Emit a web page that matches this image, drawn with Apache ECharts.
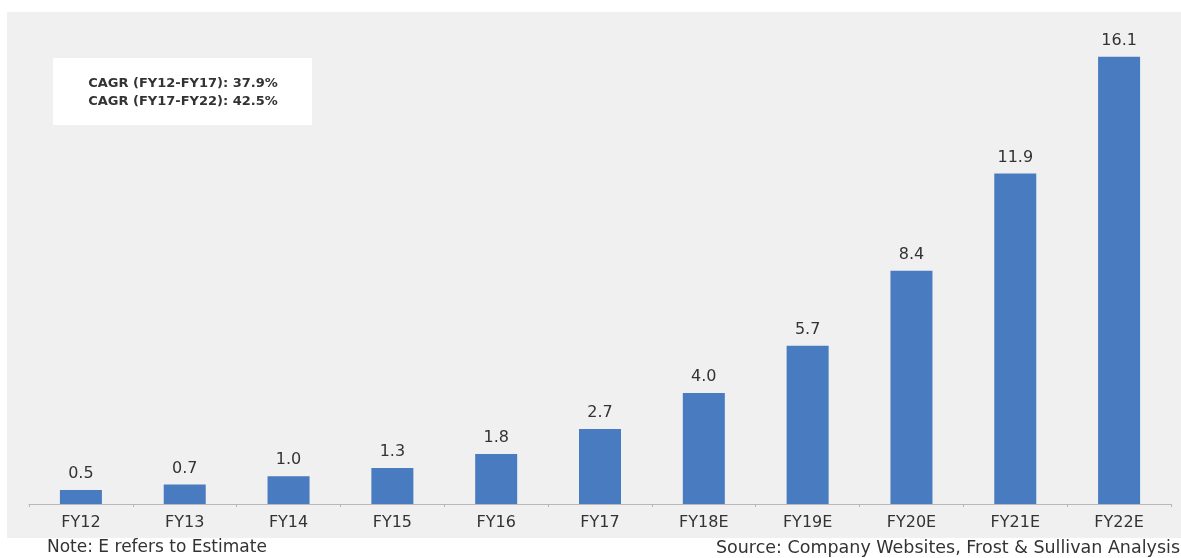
<!DOCTYPE html>
<html><head><meta charset="utf-8">
<script src="https://cdn.jsdelivr.net/npm/echarts@6/dist/echarts.min.js"></script>
<style>html,body{margin:0;padding:0;background:#fff}#c{width:1181px;height:558px}</style>
</head><body><div id="c"></div>
<script>
const categories = ['FY12','FY13','FY14','FY15','FY16','FY17','FY18E','FY19E','FY20E','FY21E','FY22E'];
const values = [0.5,0.7,1.0,1.3,1.8,2.7,4.0,5.7,8.4,11.9,16.1];
const cagrLines = ['CAGR (FY12-FY17): 37.9%','CAGR (FY17-FY22): 42.5%'];
const noteText = 'Note: E refers to Estimate';
const sourceText = 'Source: Company Websites, Frost & Sullivan Analysis';
const FONT = 'DejaVu Sans';
const chart = echarts.init(document.getElementById('c'), null, {renderer:'canvas'});
chart.setOption({
  backgroundColor:'#ffffff',
  animation:false,
  graphic:[
    {type:'rect', z:-10, shape:{x:7,y:12,width:1174,height:526}, style:{fill:'#f0f0f0'}},
    {type:'rect', z:5, shape:{x:53,y:58,width:259,height:67}, style:{fill:'#ffffff'}},
    {type:'text', z:6, style:{x:183, y:75, text:cagrLines.join('\n'), font:'bold 13px "'+FONT+'"', fill:'#333', align:'center', verticalAlign:'top', lineHeight:18}},
    {type:'text', z:6, style:{x:47, y:548, text:noteText, font:'17px "'+FONT+'"', fill:'#333', verticalAlign:'middle'}},
    {type:'text', z:6, style:{x:1180, y:548, text:sourceText, font:'17.5px "'+FONT+'"', fill:'#333', align:'right', verticalAlign:'middle'}}
  ],
  grid:{left:29, right:10, top:4, bottom:54, containLabel:false},
  xAxis:{type:'category', data:categories,
    axisLine:{lineStyle:{color:'#b8b8b8', width:1}},
    axisTick:{show:true, length:3, lineStyle:{color:'#b8b8b8'}},
    axisLabel:{color:'#333', fontFamily:FONT, fontSize:16, margin:11}},
  yAxis:{type:'value', min:0, max:18, show:false, splitLine:{show:false}},
  series:[{type:'bar', data:values, barWidth:42,
    itemStyle:{color:'#487bbf'},
    label:{show:true, position:'top', distance:8, color:'#333', fontFamily:FONT, fontSize:16,
      formatter:p=>p.value.toFixed(1)}}]
});
</script></body></html>
